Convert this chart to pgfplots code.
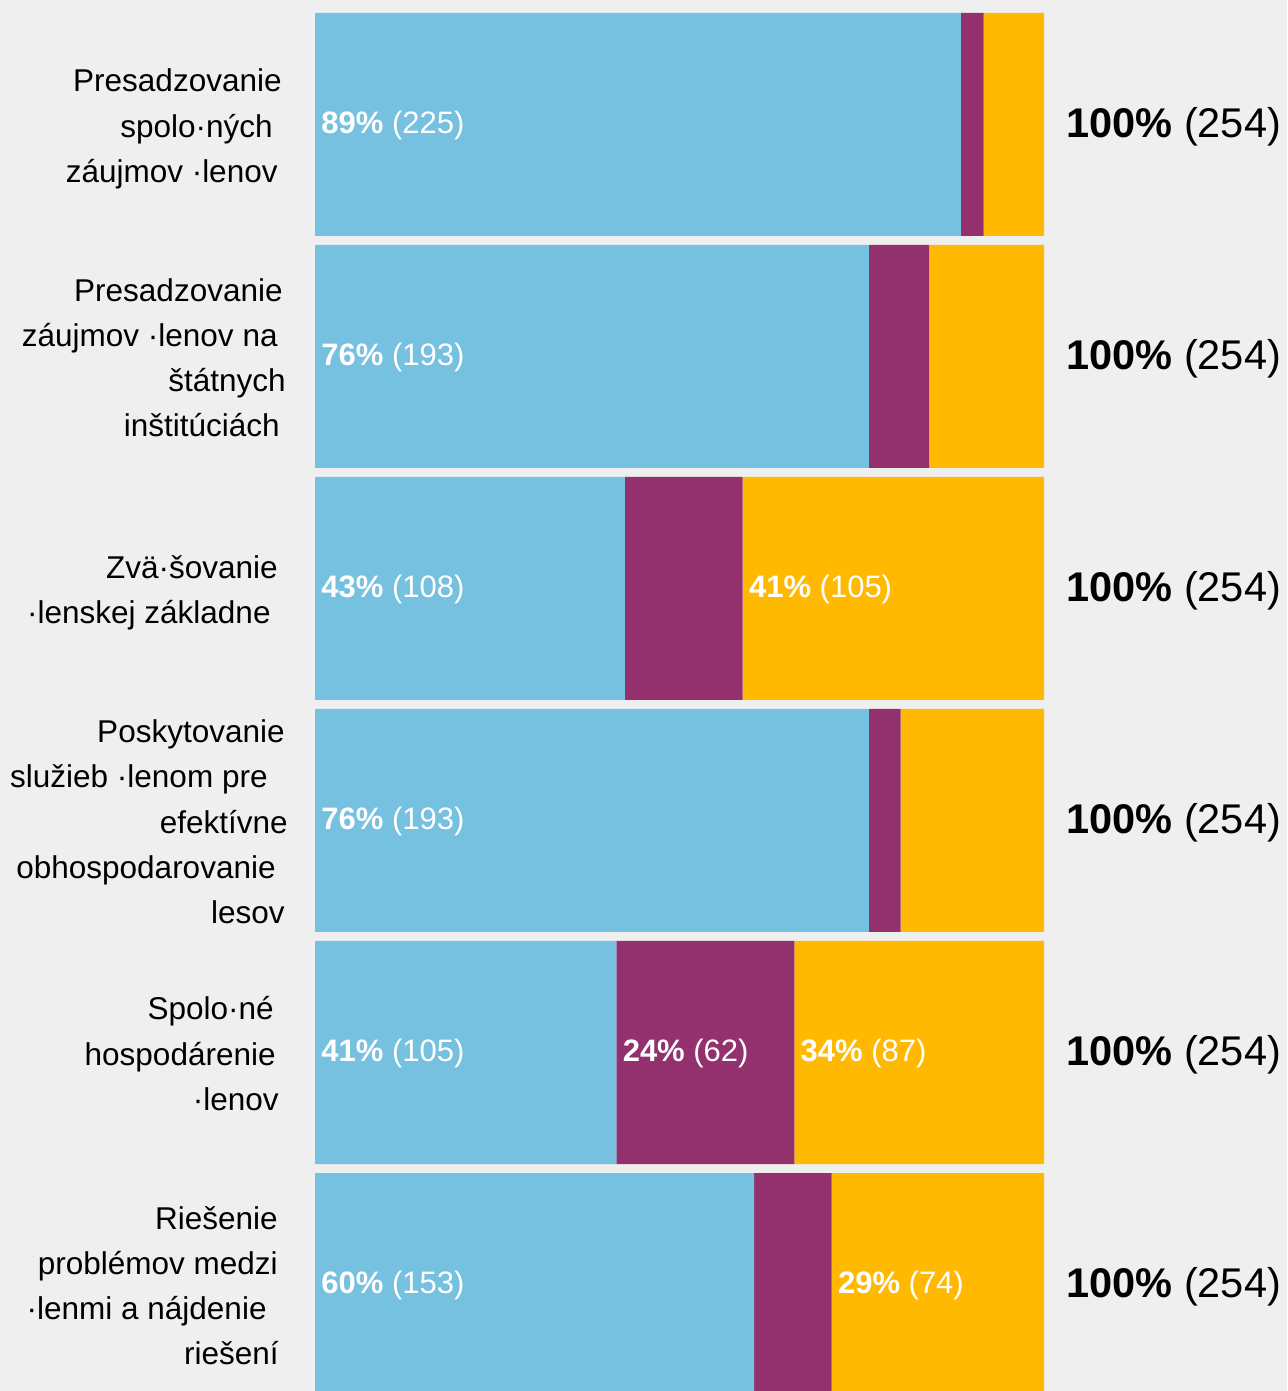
\documentclass[border=0pt]{standalone}
\usepackage{fontspec}
\setmainfont{Liberation Sans}
\usepackage{pgfplots}
\pgfplotsset{compat=1.18}
\definecolor{bg}{HTML}{EFEFEF}
\definecolor{cblue}{HTML}{76C0E0}
\definecolor{cpurple}{HTML}{93306E}
\definecolor{cyellow}{HTML}{FFB900}
\newcommand{\catfont}{\fontsize{15.75pt}{22.65pt}\selectfont}
\newcommand{\segfont}{\fontsize{15.5pt}{18pt}\selectfont}
\newcommand{\totfont}{\fontsize{20.75pt}{24pt}\selectfont}
\newcommand{\R}[1]{\hspace*{#1pt}}
\tikzset{
  seg/.style={anchor=west, inner sep=0pt, xshift=3pt, yshift=-0.5pt, text=white, font=\segfont},
  tot/.style={anchor=west, inner sep=0pt, xshift=11pt, yshift=-1pt, text=black, font=\totfont},
  cat/.style={anchor=east, inner sep=0pt, xshift=-13pt, yshift=-1.75pt, text=black, font=\catfont},
}
\begin{document}
\begin{tikzpicture}
\fill[bg] (0,0) rectangle (643.5pt,695.5pt);
\path[use as bounding box] (0,0) rectangle (643.5pt,695.5pt);
\clip (0,0) rectangle (643.5pt,695.5pt);
\begin{axis}[
  at={(157.5pt,0pt)}, anchor=south west,
  scale only axis, width=364.5pt, height=695.5pt,
  xbar stacked, bar width=0.9612,
  xmin=0, xmax=254, ymin=-0.5366, ymax=5.4591, y dir=reverse,
  hide axis, clip=false,
]
\addplot[fill=cblue, draw=none] coordinates {(225,0) (193,1) (108,2) (193,3) (105,4) (153,5)};
\addplot[fill=cpurple, draw=none] coordinates {(8,0) (21,1) (41,2) (11,3) (62,4) (27,5)};
\addplot[fill=cyellow, draw=none] coordinates {(21,0) (40,1) (105,2) (50,3) (87,4) (74,5)};

% anchor points for labels (segment starts, bar ends)
\coordinate (a0) at (axis cs:0,0);
\coordinate (a1) at (axis cs:0,1);
\coordinate (a2) at (axis cs:0,2);
\coordinate (a3) at (axis cs:0,3);
\coordinate (a4) at (axis cs:0,4);
\coordinate (a5) at (axis cs:0,5);
\coordinate (y2) at (axis cs:149,2);
\coordinate (p4) at (axis cs:105,4);
\coordinate (y4) at (axis cs:167,4);
\coordinate (y5) at (axis cs:180,5);
\coordinate (t0) at (axis cs:254,0);
\coordinate (t1) at (axis cs:254,1);
\coordinate (t2) at (axis cs:254,2);
\coordinate (t3) at (axis cs:254,3);
\coordinate (t4) at (axis cs:254,4);
\coordinate (t5) at (axis cs:254,5);
\end{axis}

% segment labels
\node[seg] at (a0) {\textbf{89\%} (225)};
\node[seg] at (a1) {\textbf{76\%} (193)};
\node[seg] at (a2) {\textbf{43\%} (108)};
\node[seg] at (y2) {\textbf{41\%} (105)};
\node[seg] at (a3) {\textbf{76\%} (193)};
\node[seg] at (a4) {\textbf{41\%} (105)};
\node[seg] at (p4) {\textbf{24\%} (62)};
\node[seg] at (y4) {\textbf{34\%} (87)};
\node[seg] at (a5) {\textbf{60\%} (153)};
\node[seg] at (y5) {\textbf{29\%} (74)};

% totals
\foreach \t in {t0,t1,t2,t3,t4,t5} {\node[tot] at (\t) {\textbf{100\%} (254)};}

% category labels
\node[cat] at (a0) {\begin{tabular}{@{}r@{}}Presadzovanie\R{3.5}\\spolo·ných\R{8}\\záujmov ·lenov\R{5.5}\end{tabular}};
\node[cat] at (a1) {\begin{tabular}{@{}r@{}}Presadzovanie\R{3}\\záujmov ·lenov na\R{5.5}\\štátnych\R{1.5}\\inštitúciách\R{4.5}\end{tabular}};
\node[cat] at (a2) {\begin{tabular}{@{}r@{}}Zvä·šovanie\R{5.5}\\·lenskej základne\R{9}\end{tabular}};
\node[cat] at (a3) {\begin{tabular}{@{}r@{}}Poskytovanie\R{2}\\služieb ·lenom pre\R{10.5}\\efektívne\R{0.5}\\obhospodarovanie\R{6.5}\\lesov\R{2}\end{tabular}};
\node[cat] at (a4) {\begin{tabular}{@{}r@{}}Spolo·né\R{7.5}\\hospodárenie\R{6.5}\\·lenov\R{5}\end{tabular}};
\node[cat] at (a5) {\begin{tabular}{@{}r@{}}Riešenie\R{5.5}\\problémov medzi\R{5.5}\\·lenmi a nájdenie\R{11}\\riešení\R{5}\end{tabular}};
\end{tikzpicture}
\end{document}
